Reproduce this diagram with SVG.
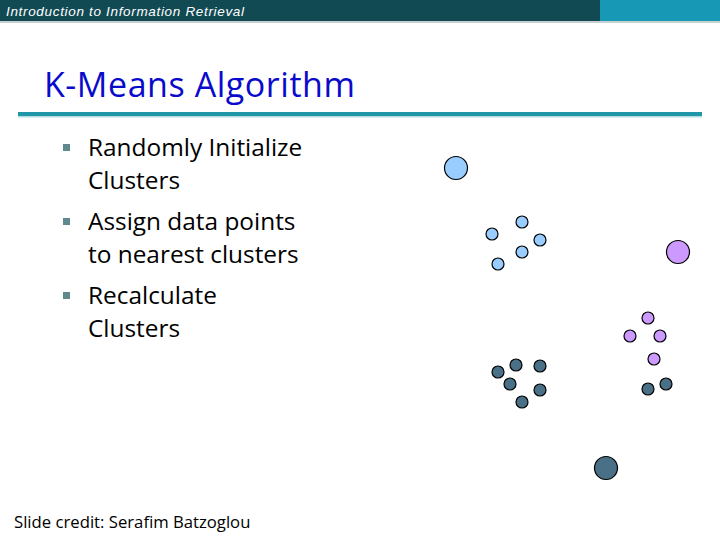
<svg xmlns="http://www.w3.org/2000/svg" width="720" height="540" viewBox="0 0 720 540">
<style>
.b{fill:#99CCFF;stroke:#000;stroke-width:1.2}
.p{fill:#CC99FF;stroke:#000;stroke-width:1.2}
.d{fill:#4A7088;stroke:#000;stroke-width:1.2}
.t{font-family:"Open Sans","Liberation Sans",sans-serif;font-size:24.4px;fill:#000}
.bul{fill:#5E8A8E}
</style>
<rect width="720" height="540" fill="#fff"/>
<g id="header">
<rect x="0" y="0" width="600" height="21" fill="#124A54"/>
<rect x="600" y="0" width="120" height="21" fill="#1799B6"/>
<rect x="0" y="21" width="720" height="2" fill="#C8D0D2"/>
<text x="6" y="16" font-family="'Liberation Sans',sans-serif" font-style="italic" font-size="13.5" fill="#fff" textLength="238">Introduction to Information Retrieval</text>
</g>
<g id="title">
<text x="44" y="97" font-family="'Open Sans','Liberation Sans',sans-serif" font-size="34" fill="#0A0ACC" textLength="311">K-Means Algorithm</text>
<rect x="18" y="112" width="684" height="4" fill="#2196A8"/>
<rect x="18" y="116" width="684" height="1.5" fill="#B5DCE2"/>
</g>
<g id="bullets">
<rect class="bul" x="63" y="144" width="7" height="7"/>
<rect class="bul" x="63" y="218" width="7" height="7"/>
<rect class="bul" x="63" y="292" width="7" height="7"/>
<text class="t" x="88" y="156">Randomly Initialize</text>
<text class="t" x="88" y="189">Clusters</text>
<text class="t" x="88" y="230">Assign data points</text>
<text class="t" x="88" y="263">to nearest clusters</text>
<text class="t" x="88" y="304">Recalculate</text>
<text class="t" x="88" y="337">Clusters</text>
</g>
<g id="blue-cluster">
<circle class="b" cx="456" cy="168" r="11.5"/>
<circle class="b" cx="522" cy="222" r="6"/>
<circle class="b" cx="492" cy="234" r="6"/>
<circle class="b" cx="540" cy="240" r="6"/>
<circle class="b" cx="522" cy="252" r="6"/>
<circle class="b" cx="498" cy="264" r="6"/>
</g>
<g id="purple-cluster">
<circle class="p" cx="678" cy="252" r="11.5"/>
<circle class="p" cx="648" cy="318" r="6"/>
<circle class="p" cx="630" cy="336" r="6"/>
<circle class="p" cx="660" cy="336" r="6"/>
<circle class="p" cx="654" cy="359" r="6"/>
</g>
<g id="dark-cluster">
<circle class="d" cx="606" cy="468" r="11.5"/>
<circle class="d" cx="516" cy="365" r="6"/>
<circle class="d" cx="540" cy="366" r="6"/>
<circle class="d" cx="498" cy="372" r="6"/>
<circle class="d" cx="510" cy="384" r="6"/>
<circle class="d" cx="540" cy="390" r="6"/>
<circle class="d" cx="522" cy="402" r="6"/>
<circle class="d" cx="648" cy="389" r="6"/>
<circle class="d" cx="666" cy="384" r="6"/>
</g>
<g id="credit">
<text x="14" y="528" font-family="'Open Sans','Liberation Sans',sans-serif" font-size="16.7" fill="#000">Slide credit: Serafim Batzoglou</text>
</g>
</svg>
